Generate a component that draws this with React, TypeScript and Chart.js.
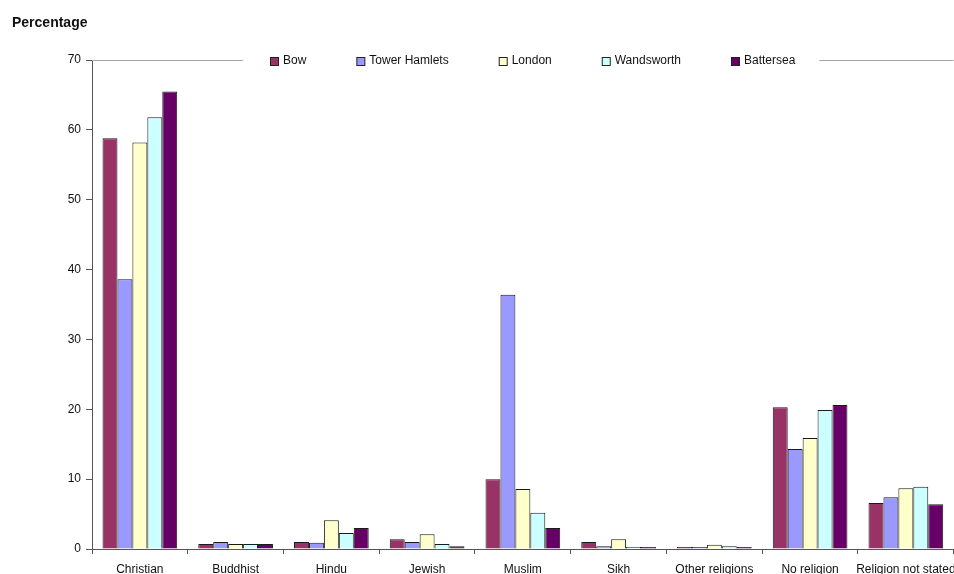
import React, { useEffect, useRef } from "react";
import { Chart, registerables } from "chart.js";

Chart.register(...registerables);

// Religion breakdown (% of population) by area
const categories = [
  "Christian",
  "Buddhist",
  "Hindu",
  "Jewish",
  "Muslim",
  "Sikh",
  "Other religions",
  "No religion",
  "Religion not stated",
];
const bow = [58.8, 0.7, 1.0, 1.4, 10.0, 1.0, 0.3, 20.3, 6.6];
const towerHamlets = [38.6, 1.0, 0.9, 1.0, 36.4, 0.4, 0.3, 14.3, 7.4];
const london = [58.2, 0.7, 4.1, 2.1, 8.6, 1.4, 0.6, 15.9, 8.7];
const wandsworth = [61.8, 0.7, 2.3, 0.7, 5.2, 0.3, 0.4, 19.9, 8.9];
const battersea = [65.5, 0.7, 3.0, 0.4, 3.0, 0.3, 0.3, 20.6, 6.4];

const seriesNames = ["Bow", "Tower Hamlets", "London", "Wandsworth", "Battersea"];
const seriesValues = [bow, towerHamlets, london, wandsworth, battersea];
const seriesColors = ["#993366", "#9999FF", "#FFFFCC", "#CCFFFF", "#660066"];

const yTicks = [0, 10, 20, 30, 40, 50, 60, 70];
const yTitle = "Percentage";

const FONT = '"Liberation Sans", Arial, sans-serif';
const TEXT = "#111111";
const AXIS = "#555555";

// Title at the top left, plus a legend strip sitting on the plot's top edge
const decorPlugin = {
  id: "decor",
  afterDraw(chart: any) {
    const ctx = chart.ctx as CanvasRenderingContext2D;
    const { left, right, top } = chart.chartArea;
    ctx.save();

    ctx.font = `bold 14px ${FONT}`;
    ctx.fillStyle = TEXT;
    ctx.textAlign = "left";
    ctx.textBaseline = "middle";
    ctx.fillText(yTitle, 12, 23);

    ctx.font = `12px ${FONT}`;
    const startX = 270;
    const box = 8;
    const gapText = 13;
    const gapItem = 50;
    let x = startX;
    const items: { x: number; label: string; color: string }[] = [];
    let lastEnd = startX;
    chart.data.datasets.forEach((ds: any) => {
      const w = ctx.measureText(ds.label).width;
      items.push({ x, label: ds.label, color: ds.backgroundColor });
      lastEnd = x + gapText + w;
      x = lastEnd + gapItem;
    });
    const boxLeft = startX - 27;
    const boxRight = lastEnd + 24;

    ctx.strokeStyle = "#a6a6a6";
    ctx.lineWidth = 1;
    ctx.beginPath();
    ctx.moveTo(left, top + 0.5);
    ctx.lineTo(boxLeft, top + 0.5);
    ctx.moveTo(boxRight, top + 0.5);
    ctx.lineTo(right, top + 0.5);
    ctx.stroke();

    const cy = top + 1;
    items.forEach((it) => {
      ctx.fillStyle = it.color;
      ctx.fillRect(it.x + 0.5, cy - box / 2 + 0.5, box, box);
      ctx.strokeStyle = "#222";
      ctx.strokeRect(it.x + 0.5, cy - box / 2 + 0.5, box, box);
      ctx.fillStyle = TEXT;
      ctx.fillText(it.label, it.x + gapText, cy);
    });
    ctx.restore();
  },
};

export default function App() {
  const canvasRef = useRef<HTMLCanvasElement | null>(null);

  useEffect(() => {
    if (!canvasRef.current) return;
    Chart.defaults.font.family = FONT;
    Chart.defaults.font.size = 12;
    Chart.defaults.color = TEXT;

    const chart = new Chart(canvasRef.current, {
      type: "bar",
      data: {
        labels: categories,
        datasets: seriesNames.map((name, i) => ({
          label: name,
          data: seriesValues[i],
          backgroundColor: seriesColors[i],
          borderColor: "#1a1a1a",
          borderWidth: 1,
          barPercentage: 1,
          categoryPercentage: 0.78,
        })),
      },
      options: {
        responsive: false,
        animation: false,
        layout: { padding: { top: 60, right: 8, left: 0, bottom: 0 } },
        plugins: {
          legend: { display: false },
          title: { display: false },
          tooltip: { enabled: false },
        },
        scales: {
          x: {
            grid: {
              offset: true,
              drawOnChartArea: false,
              drawTicks: true,
              tickLength: 5,
              color: AXIS,
            },
            border: { display: true, color: AXIS, width: 1 },
            ticks: { autoSkip: false, maxRotation: 0, padding: 8, color: TEXT },
            afterFit(scale: any) {
              scale.height = 25;
            },
          },
          y: {
            min: 0,
            max: 70,
            afterBuildTicks(scale: any) {
              scale.ticks = yTicks.map((v) => ({ value: v }));
            },
            grid: {
              drawOnChartArea: false,
              drawTicks: true,
              tickLength: 6,
              color: AXIS,
            },
            border: { display: true, color: AXIS, width: 1 },
            ticks: { padding: 5, color: TEXT },
            afterFit(scale: any) {
              scale.width = 92;
            },
          },
        },
      },
      plugins: [decorPlugin],
    });
    return () => chart.destroy();
  }, []);

  return (
    <div
      style={{
        position: "fixed",
        left: 0,
        top: 0,
        width: 954,
        height: 574,
        overflow: "hidden",
        background: "#fff",
      }}
    >
      <canvas ref={canvasRef} width={964} height={574} style={{ width: 964, height: 574, display: "block" }} />
    </div>
  );
}
